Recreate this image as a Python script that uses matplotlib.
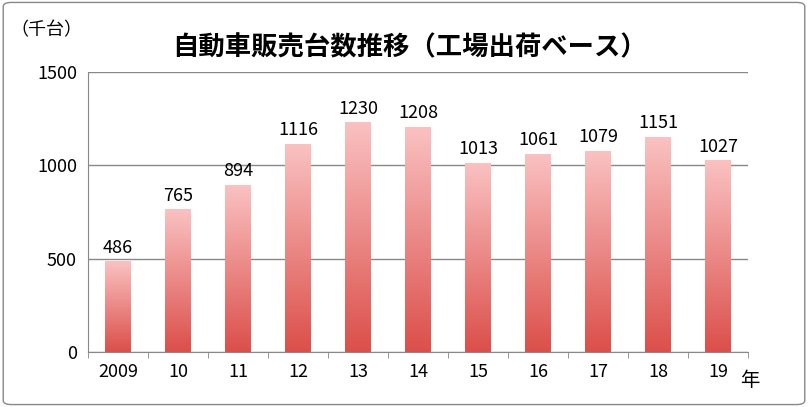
import matplotlib
matplotlib.use("Agg")
import matplotlib.pyplot as plt
import numpy as np
from matplotlib.patches import FancyBboxPatch
from matplotlib.colors import LinearSegmentedColormap

plt.rcParams['font.family'] = ['Noto Sans CJK JP', 'DejaVu Sans']

years = ['2009', '10', '11', '12', '13', '14', '15', '16', '17', '18', '19']
values = [486, 765, 894, 1116, 1230, 1208, 1013, 1061, 1079, 1151, 1027]

fig = plt.figure(figsize=(8.08, 4.07), dpi=100)
fig.patches.append(FancyBboxPatch((0.004, 0.006), 0.992, 0.988, boxstyle="round,pad=0,rounding_size=0.01",
                                  transform=fig.transFigure, fill=False, ec='#888888', lw=1))
ax = fig.add_axes([88/808, 1-352/407, 660/808, 280/407])
x = np.arange(len(years))
w = 0.42
grad = np.linspace(0, 1, 256).reshape(-1, 1)
cmap = LinearSegmentedColormap.from_list('g', [(0.86, 0.31, 0.29), (0.98, 0.76, 0.76)])
bars = ax.bar(x, values, width=w, color='none')
for b, v in zip(bars, values):
    im = ax.imshow(grad, extent=[b.get_x(), b.get_x()+w, 0, v], origin='lower', cmap=cmap, aspect='auto', zorder=2)
    im.set_clip_path(b)
    ax.text(b.get_x()+w/2, v+25, str(v), ha='center', va='bottom', fontsize=13)
ax.set_xlim(-0.5, len(years)-0.5)
ax.set_ylim(0, 1500)
ax.set_yticks([0, 500, 1000, 1500])
ax.yaxis.grid(True, color='#888888', lw=1)
ax.set_axisbelow(True)
ax.set_xticks(x)
ax.set_xticklabels(years, fontsize=13)
ax.tick_params(axis='y', labelsize=13, length=0, pad=8)
ax.tick_params(axis='x', length=0, pad=8)
ax.set_xticks(np.arange(-0.5, len(years)), minor=True)
ax.tick_params(axis='x', which='minor', length=4, color='#888888')
for s in ['top', 'right']:
    ax.spines[s].set_visible(False)
ax.spines['left'].set_color('#888888')
ax.spines['bottom'].set_color('#888888')
fig.text(410/808, 1-48/407, '自動車販売台数推移（工場出荷ベース）', ha='center', va='center', fontsize=19, fontweight='bold')
fig.text(10/808, 1-30/407, '（千台）', ha='left', va='center', fontsize=13)
fig.text(740/808, 1-380/407, '年', ha='left', va='center', fontsize=14)
fig.savefig('out.png', dpi=100)
